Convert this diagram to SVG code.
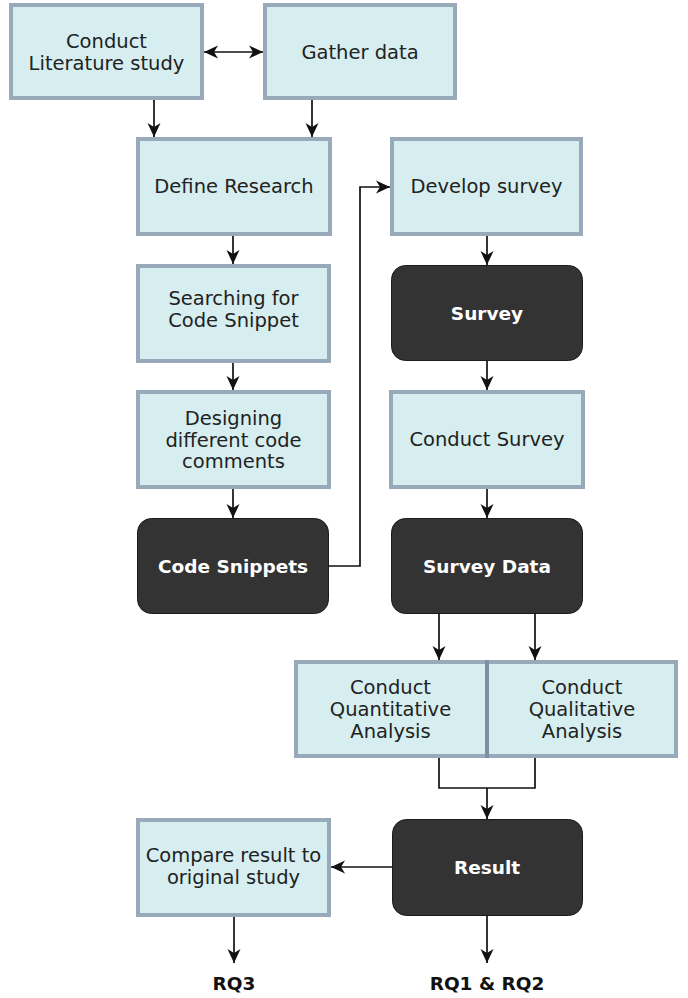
<svg xmlns="http://www.w3.org/2000/svg" width="688" height="998" viewBox="0 0 688 998">
<style>
.box{fill:#d6eef0;stroke:#98a9ba;stroke-width:4}
.dark{fill:#333333;stroke:#1a1a1a;stroke-width:1}
.t{font-family:"DejaVu Sans",Verdana,sans-serif;font-size:19.5px;fill:#222;text-anchor:middle}
.tw{font-family:"DejaVu Sans",Verdana,sans-serif;font-size:18.5px;font-weight:bold;fill:#ffffff;text-anchor:middle}
.tb{font-family:"DejaVu Sans",Verdana,sans-serif;font-size:18.5px;font-weight:bold;fill:#111;text-anchor:middle}
.c{fill:none;stroke:#111;stroke-width:1.7}
</style>
<defs>
<marker id="ah" markerUnits="userSpaceOnUse" markerWidth="16" markerHeight="16" viewBox="0 0 16 16" refX="15" refY="8" orient="auto-start-reverse">
<path d="M1,1.5 L15,8 L1,14.5 L5,8 z" fill="#111"/>
</marker>
</defs>
<rect width="688" height="998" fill="#ffffff"/>
<g id="n-lit"><rect class="box" x="11" y="5" width="191" height="93"/><text class="t" x="106.5" y="48">Conduct</text><text class="t" x="106.5" y="70">Literature study</text></g>
<g id="n-gather"><rect class="box" x="265" y="5" width="190" height="93"/><text class="t" x="360" y="59">Gather data</text></g>
<g id="n-define"><rect class="box" x="138" y="139" width="192" height="95"/><text class="t" x="234" y="193">Define Research</text></g>
<g id="n-develop"><rect class="box" x="392" y="139" width="189" height="95"/><text class="t" x="486.5" y="193">Develop survey</text></g>
<g id="n-search"><rect class="box" x="138" y="266" width="191" height="95"/><text class="t" x="233.5" y="305">Searching for</text><text class="t" x="233.5" y="327">Code Snippet</text></g>
<g id="n-design"><rect class="box" x="138" y="392" width="191" height="95"/><text class="t" x="233.5" y="425">Designing</text><text class="t" x="233.5" y="447">different code</text><text class="t" x="233.5" y="468">comments</text></g>
<g id="n-snippets"><rect class="dark" x="137.5" y="518.5" width="191" height="95" rx="14"/><text class="tw" x="233" y="573">Code Snippets</text></g>
<g id="n-survey"><rect class="dark" x="391.5" y="265.5" width="191" height="95" rx="14"/><text class="tw" x="487" y="320">Survey</text></g>
<g id="n-conduct-survey"><rect class="box" x="391" y="392" width="192" height="95"/><text class="t" x="487" y="446">Conduct Survey</text></g>
<g id="n-survey-data"><rect class="dark" x="391.5" y="518.5" width="191" height="95" rx="14"/><text class="tw" x="487" y="573">Survey Data</text></g>
<g id="n-quant"><rect class="box" x="296" y="662" width="191" height="94"/><text class="t" x="390.5" y="694">Conduct</text><text class="t" x="390.5" y="716">Quantitative</text><text class="t" x="390.5" y="738">Analysis</text></g>
<g id="n-qual"><rect class="box" x="487" y="662" width="189" height="94"/><text class="t" x="582" y="694">Conduct</text><text class="t" x="582" y="716">Qualitative</text><text class="t" x="582" y="738">Analysis</text></g>
<line x1="487" y1="660" x2="487" y2="758" stroke="#7d8fa2" stroke-width="4"/>
<g id="n-compare"><rect class="box" x="138" y="820" width="191" height="95"/><text class="t" x="233.5" y="862">Compare result to</text><text class="t" x="233.5" y="884">original study</text></g>
<g id="n-result"><rect class="dark" x="392.5" y="819.5" width="190" height="96" rx="14"/><text class="tw" x="487" y="874">Result</text></g>
<g id="n-rq3"><text class="tb" x="234" y="990">RQ3</text></g>
<g id="n-rq12"><text class="tb" x="487" y="990">RQ1 &amp; RQ2</text></g>
<g id="connectors">
<path class="c" d="M204,52 L263,52" marker-start="url(#ah)" marker-end="url(#ah)"/>
<path class="c" d="M154,100 L154,137" marker-end="url(#ah)"/>
<path class="c" d="M312,100 L312,137" marker-end="url(#ah)"/>
<path class="c" d="M233,236 L233,264" marker-end="url(#ah)"/>
<path class="c" d="M233,363 L233,390" marker-end="url(#ah)"/>
<path class="c" d="M233,489 L233,518" marker-end="url(#ah)"/>
<path class="c" d="M329,566 L360,566 L360,187 L390,187" marker-end="url(#ah)"/>
<path class="c" d="M487,236 L487,265" marker-end="url(#ah)"/>
<path class="c" d="M487,361 L487,390" marker-end="url(#ah)"/>
<path class="c" d="M487,489 L487,518" marker-end="url(#ah)"/>
<path class="c" d="M439,614 L439,660" marker-end="url(#ah)"/>
<path class="c" d="M535,614 L535,660" marker-end="url(#ah)"/>
<path class="c" d="M439,758 L439,788 L535,788 L535,758"/>
<path class="c" d="M487,788 L487,819" marker-end="url(#ah)"/>
<path class="c" d="M392,867 L331,867" marker-end="url(#ah)"/>
<path class="c" d="M234,917 L234,963" marker-end="url(#ah)"/>
<path class="c" d="M487,916 L487,963" marker-end="url(#ah)"/>
</g>
</svg>
